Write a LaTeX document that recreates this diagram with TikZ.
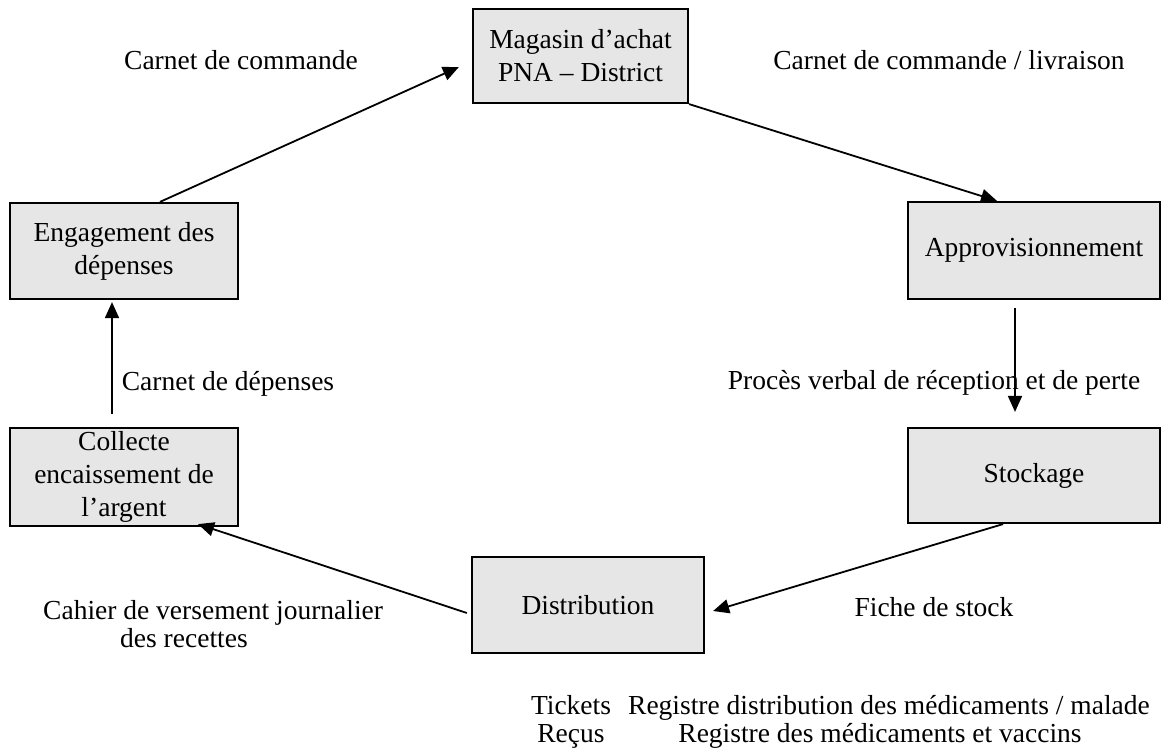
\documentclass[tikz,border=0pt]{standalone}
\usepackage{fontspec}
\setmainfont{Liberation Serif}
\usetikzlibrary{arrows.meta}
\definecolor{boxgray}{RGB}{230,230,230}
\begin{document}
\begin{tikzpicture}[x=1pt,y=-1pt,
  font=\fontsize{27.5}{33}\selectfont,
  box/.style={draw=black,line width=2.2pt,fill=boxgray,align=center,inner sep=0pt,
    minimum width=#1},
  conn/.style={line width=1.8pt,-{Triangle[length=16pt,width=14pt]}},
  lbl/.style={anchor=base,inner sep=0pt}]
\useasboundingbox (0,0) rectangle (1162,752);
\node[box=215pt,minimum height=94pt] (mag) at (580.5,56) {Magasin d'achat\\PNA -- District};
\node[box=252pt,minimum height=97pt] (appro) at (1034,250.5) {Approvisionnement};
\node[box=252pt,minimum height=95pt] (stock) at (1034,475.5) {Stockage};
\node[box=232pt,minimum height=96pt] (dist) at (588,605) {Distribution};
\node[box=228pt,minimum height=98pt] (coll) at (124,477) {Collecte\\encaissement de\\l'argent};
\node[box=228pt,minimum height=96pt] (eng) at (124,251) {Engagement des\\dépenses};

\draw[conn] ([shift={(36,0)}]eng.north) -- ([shift={(-13,11)}]mag.west);
\draw[conn] (mag.south east) -- ([shift={(-37,0)}]appro.north);
\draw[conn] ([shift={(-19,8)}]appro.south) -- ([shift={(-19,-15)}]stock.north);
\draw[conn] ([shift={(-31,0)}]stock.south) -- ([shift={(8,6)}]dist.east);
\draw[conn] ([shift={(-4,8)}]dist.west) -- ([shift={(74,-3)}]coll.south);
\draw[conn] ([shift={(-12,-13)}]coll.north) -- ([shift={(-12,2)}]eng.south);

\node[lbl] (l1) at (241,70) {Carnet de commande};
\node[lbl] (l2) at (949,70) {Carnet de commande / livraison};
\node[lbl] (l3) at (934,389) {Procès verbal de réception et de perte};
\node[lbl] (l4) at (228,390) {Carnet de dépenses};
\node[lbl,anchor=base west] (l5) at (43,619) {Cahier de versement journalier};
\node[lbl,anchor=base west] (l6) at (120,647) {des recettes};
\node[lbl] (l7) at (934,616) {Fiche de stock};
\node[lbl] (l8) at (571,714) {Tickets};
\node[lbl] (l9) at (571,742) {Reçus};
\node[lbl,anchor=base east] (l10) at (1150,714) {Registre distribution des médicaments / malade};
\node[lbl] (l11) at (880,742) {Registre des médicaments et vaccins};
\end{tikzpicture}
\end{document}
